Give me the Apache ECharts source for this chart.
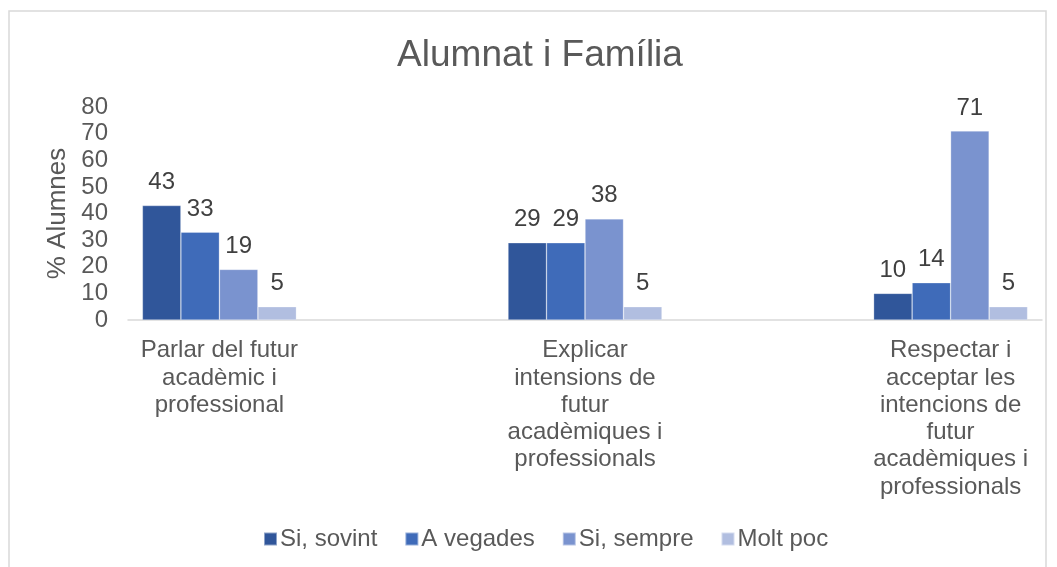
<!DOCTYPE html>
<html>
<head>
<meta charset="utf-8">
<script src="https://cdn.jsdelivr.net/npm/echarts@6/dist/echarts.min.js"></script>
<style>
  html, body { margin: 0; padding: 0; background: #ffffff; }
  #chart { width: 1057px; height: 567px; }
</style>
</head>
<body>
<div id="chart"></div>
<script>
// Categories: blank slots keep the three groups spaced apart on the axis
const categories = [
  'Parlar del futur\nacadèmic i\nprofessional',
  '',
  'Explicar\nintensions de\nfutur\nacadèmiques i\nprofessionals',
  '',
  'Respectar i\nacceptar les\nintencions de\nfutur\nacadèmiques i\nprofessionals'
];

const seriesNames = ['Si, sovint', 'A vegades', 'Si, sempre', 'Molt poc'];

// Percent of students per answer
const siSovint  = [43, '-', 29, '-', 10];
const aVegades  = [33, '-', 29, '-', 14];
const siSempre  = [19, '-', 38, '-', 71];
const moltPoc   = [5,  '-', 5,  '-', 5];

const yTicks = { min: 0, max: 80, interval: 10 };

const colors = ['#30569A', '#3F6BB9', '#7A93CF', '#B1BEE0'];
const FONT = '"Liberation Sans", Arial, sans-serif';

const chart = echarts.init(document.getElementById('chart'), null, { renderer: 'canvas' });

function barSeries(name, data, color) {
  return {
    name: name,
    type: 'bar',
    data: data,
    barWidth: 38.5,
    barGap: '0%',
    itemStyle: { color: color, borderColor: 'rgba(255,255,255,0.45)', borderWidth: 0.6 },
    label: {
      show: true,
      position: 'top',
      distance: 11,
      color: '#404040',
      fontFamily: FONT,
      fontSize: 24
    }
  };
}

chart.setOption({
  animation: false,
  backgroundColor: '#ffffff',
  color: colors,
  title: {
    text: 'Alumnat i Família',
    left: 535,
    textAlign: 'center',
    top: 32,
    textStyle: { color: '#595959', fontFamily: FONT, fontSize: 37, fontWeight: 'normal' }
  },
  graphic: [{
    type: 'rect',
    shape: { x: 9, y: 11, width: 1037, height: 600 },
    style: { fill: 'none', stroke: '#D9D9D9', lineWidth: 1.5 },
    silent: true
  }],
  legend: {
    data: seriesNames,
    left: 258,
    top: 522,
    itemWidth: 13,
    itemHeight: 13,
    itemGap: 27,
    icon: 'rect',
    textStyle: { color: '#595959', fontFamily: FONT, fontSize: 24, padding: [0, 0, 0, -2] }
  },
  grid: { left: 128, right: 15, top: 107, bottom: 247 },
  xAxis: {
    type: 'category',
    data: categories,
    axisLine: { lineStyle: { color: '#D9D9D9', width: 1.5 } },
    axisTick: { show: false },
    axisLabel: {
      interval: 0,
      margin: 17,
      color: '#595959',
      fontFamily: FONT,
      fontSize: 24,
      lineHeight: 27.3,
      align: 'center'
    }
  },
  yAxis: {
    type: 'value',
    min: yTicks.min,
    max: yTicks.max,
    interval: yTicks.interval,
    name: '% Alumnes',
    nameLocation: 'middle',
    nameGap: 55,
    nameTextStyle: { color: '#595959', fontFamily: FONT, fontSize: 26 },
    axisLine: { show: false },
    axisTick: { show: false },
    splitLine: { show: false },
    axisLabel: { margin: 20, color: '#595959', fontFamily: FONT, fontSize: 24 }
  },
  series: [
    barSeries(seriesNames[0], siSovint, colors[0]),
    barSeries(seriesNames[1], aVegades, colors[1]),
    barSeries(seriesNames[2], siSempre, colors[2]),
    barSeries(seriesNames[3], moltPoc, colors[3])
  ]
});
</script>
</body>
</html>
